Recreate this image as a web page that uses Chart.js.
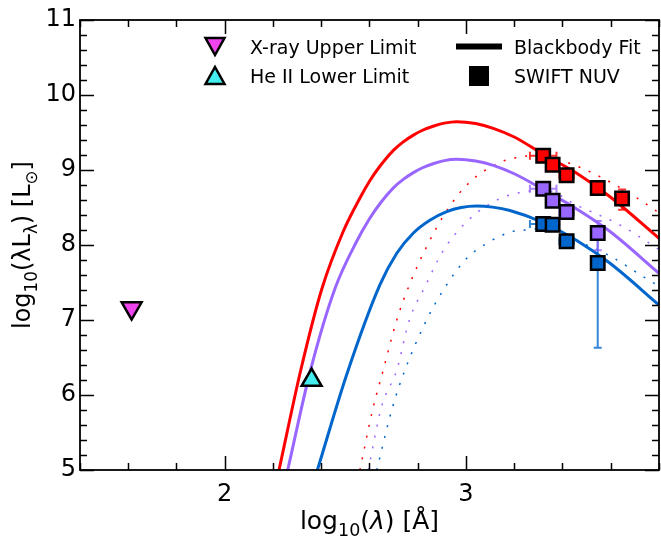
<!DOCTYPE html>
<html>
<head>
<meta charset="utf-8">
<script src="https://cdn.jsdelivr.net/npm/chart.js@4.4.1/dist/chart.umd.min.js"></script>
<style>
  html, body { margin: 0; padding: 0; background: #fff; overflow: hidden; }
  canvas { display: block; }
</style>
</head>
<body>
<canvas id="sedChart" width="661" height="537"></canvas>
<script>
// blackbody fits (solid)
const fitRedX = [2.225, 2.315, 2.402, 2.491, 2.561, 2.60, 2.643, 2.70, 2.74, 2.782, 2.82, 2.87, 2.91, 2.961, 3.04, 3.113, 3.2, 3.32, 3.459, 3.597, 3.8];
const fitRedY = [5.0, 6.33, 7.41, 8.18, 8.63, 8.85, 9.05, 9.265, 9.375, 9.465, 9.53, 9.59, 9.625, 9.645, 9.62, 9.556, 9.44, 9.21, 8.956, 8.644, 8.09];
const fitPurpleX = [2.261, 2.353, 2.457, 2.547, 2.60, 2.643, 2.70, 2.74, 2.782, 2.82, 2.87, 2.91, 2.961, 3.04, 3.113, 3.2, 3.32, 3.459, 3.597, 3.8];
const fitPurpleY = [5.0, 6.3, 7.42, 8.05, 8.35, 8.55, 8.765, 8.875, 8.965, 9.03, 9.09, 9.125, 9.142, 9.12, 9.062, 8.95, 8.74, 8.48, 8.18, 7.622];
const fitBlueX = [2.384, 2.505, 2.643, 2.713, 2.782, 2.85, 2.92, 2.98, 3.044, 3.11, 3.182, 3.32, 3.459, 3.597, 3.8];
const fitBlueY = [5.0, 6.267, 7.467, 7.89, 8.16, 8.33, 8.445, 8.5, 8.52, 8.505, 8.46, 8.3, 8.06, 7.756, 7.2];

// dotted curves
const dotRedX = [2.56, 2.616, 2.657, 2.713, 2.768, 2.837, 2.913, 3.01, 3.148, 3.196, 3.28, 3.41, 3.555, 3.7, 3.8];
const dotRedY = [5.0, 5.844, 6.333, 7.0, 7.489, 7.978, 8.422, 8.822, 9.111, 9.156, 9.19, 9.11, 8.911, 8.644, 8.43];
const dotPurpleX = [2.595, 2.65, 2.713, 2.765, 2.83, 2.903, 3.003, 3.134, 3.245, 3.33, 3.459, 3.638, 3.8];
const dotPurpleY = [5.0, 5.844, 6.333, 7.0, 7.444, 7.911, 8.311, 8.609, 8.711, 8.73, 8.53, 8.267, 7.94];
const dotBlueX = [2.63, 2.696, 2.747, 2.83, 2.906, 3.003, 3.086, 3.189, 3.245, 3.33, 3.5, 3.597, 3.735, 3.8];
const dotBlueY = [5.0, 5.844, 6.333, 6.956, 7.4, 7.822, 8.022, 8.178, 8.2, 8.22, 8.0, 7.853, 7.578, 7.45];

// SWIFT NUV points
const nuvX = [3.32, 3.359, 3.417, 3.546, 3.647];
const nuvXErr = [0.055, 0, 0.03, 0, 0];
const nuvRed = [9.19, 9.07, 8.93, 8.76, 8.62];
const nuvRedErrLo = [0, 0, 0.06, 0, 0.15];
const nuvRedErrHi = [0, 0, 0.06, 0, 0.12];
const nuvPurple = [8.75, 8.59, 8.44, 8.16];
const nuvPurpleErrLo = [0, 0, 0.06, 0.23];
const nuvPurpleErrHi = [0, 0, 0.06, 0.16];
const nuvBlue = [8.28, 8.27, 8.05, 7.76];
const nuvBlueErrLo = [0, 0, 0.08, 1.13];
const nuvBlueErrHi = [0, 0, 0.06, 0.31];

// limits
const xrayX = [1.614];
const xrayY = [7.16];
const heiiX = [2.36];
const heiiY = [6.2];

const RED = '#ff0000', PURPLE = '#9966ff', BLUE = '#0066cc';
const FONT = '"DejaVu Sans", sans-serif';

function pts(xs, ys) {
    return xs.map((x, i) => ({ x: x, y: ys[i] }));
}

function isMajor(v) {
    return Math.abs(v - Math.round(v)) < 1e-6;
}

function curve(xs, ys, color, dotted) {
    return {
        data: pts(xs, ys),
        showLine: true,
        borderColor: color,
        borderWidth: dotted ? 1.5 : 3,
        borderDash: dotted ? [2, 9] : [],
        pointRadius: 0,
        fill: false,
        cubicInterpolationMode: 'monotone',
        order: dotted ? 6 : 5
    };
}

function nuv(ys, color, lo, hi) {
    return {
        data: pts(nuvX.slice(0, ys.length), ys),
        pointStyle: 'rect',
        pointRadius: 9.5,
        pointBackgroundColor: color,
        pointBorderColor: '#000',
        pointBorderWidth: 2.5,
        errColor: color,
        errLo: lo,
        errHi: hi,
        order: 0
    };
}

const errorBars = {
    id: 'errorBars',
    beforeDatasetDraw(chart, args) {
        const ds = chart.data.datasets[args.index];
        if (!ds.errLo) return;
        const xs = chart.scales.x, ys = chart.scales.y;
        const ctx = chart.ctx;
        ctx.save();
        ctx.strokeStyle = ds.errColor;
        ctx.globalAlpha = 0.8;
        ctx.lineWidth = 2;
        ds.data.forEach((p, i) => {
            const px = xs.getPixelForValue(p.x);
            const py = ys.getPixelForValue(p.y);
            const cap = 4;
            if (ds.errLo[i] > 0 || ds.errHi[i] > 0) {
                const y1 = ys.getPixelForValue(p.y + ds.errHi[i]);
                const y2 = ys.getPixelForValue(p.y - ds.errLo[i]);
                ctx.beginPath();
                ctx.moveTo(px, y1); ctx.lineTo(px, y2);
                ctx.moveTo(px - cap, y1); ctx.lineTo(px + cap, y1);
                ctx.moveTo(px - cap, y2); ctx.lineTo(px + cap, y2);
                ctx.stroke();
            }
            if (nuvXErr[i] > 0) {
                const x1 = xs.getPixelForValue(p.x - nuvXErr[i]);
                const x2 = xs.getPixelForValue(p.x + nuvXErr[i]);
                ctx.beginPath();
                ctx.moveTo(x1, py); ctx.lineTo(x2, py);
                ctx.moveTo(x1, py - cap); ctx.lineTo(x1, py + cap);
                ctx.moveTo(x2, py - cap); ctx.lineTo(x2, py + cap);
                ctx.stroke();
            }
        });
        ctx.restore();
    }
};

function triangle(ctx, cx, cy, w, h, down, fill) {
    ctx.beginPath();
    if (down) {
        ctx.moveTo(cx - w / 2, cy - h / 2);
        ctx.lineTo(cx + w / 2, cy - h / 2);
        ctx.lineTo(cx, cy + h / 2);
    } else {
        ctx.moveTo(cx - w / 2, cy + h / 2);
        ctx.lineTo(cx + w / 2, cy + h / 2);
        ctx.lineTo(cx, cy - h / 2);
    }
    ctx.closePath();
    ctx.fillStyle = fill;
    ctx.fill();
    ctx.lineWidth = 2.5;
    ctx.strokeStyle = '#000';
    ctx.stroke();
}

// draw a title made of pieces, some of them subscript
function mathText(ctx, parts, cx, baseY, size, rotate) {
    ctx.save();
    ctx.translate(cx, baseY);
    if (rotate) ctx.rotate(-Math.PI / 2);
    let total = 0;
    parts.forEach(p => {
        ctx.font = (p.it ? 'italic ' : '') + (p.sub ? size * 0.7 : size) + 'px ' + FONT;
        p.w = ctx.measureText(p.t).width;
        total += p.w;
    });
    let x = -total / 2;
    ctx.fillStyle = '#000';
    ctx.textBaseline = 'alphabetic';
    parts.forEach(p => {
        ctx.font = (p.it ? 'italic ' : '') + (p.sub ? size * 0.7 : size) + 'px ' + FONT;
        ctx.fillText(p.t, x, p.sub ? size * 0.28 : 0);
        x += p.w;
    });
    ctx.restore();
}

const frameAndLegend = {
    id: 'frameAndLegend',
    afterDraw(chart) {
        const ctx = chart.ctx;
        const { left, right, top, bottom } = chart.chartArea;
        const xs = chart.scales.x, ys = chart.scales.y;

        ctx.save();
        ctx.strokeStyle = '#000';
        ctx.lineWidth = 1.5;
        ctx.beginPath();
        xs.ticks.forEach(t => {
            const px = Math.round(xs.getPixelForValue(t.value)) + 0.5;
            const len = isMajor(t.value) ? 14 : 7;
            ctx.moveTo(px, bottom); ctx.lineTo(px, bottom - len);
            ctx.moveTo(px, top); ctx.lineTo(px, top + len);
        });
        ys.ticks.forEach(t => {
            const py = Math.round(ys.getPixelForValue(t.value)) + 0.5;
            const len = isMajor(t.value) ? 14 : 7;
            ctx.moveTo(left, py); ctx.lineTo(left + len, py);
            ctx.moveTo(right, py); ctx.lineTo(right - len, py);
        });
        ctx.stroke();
        ctx.lineWidth = 1.8;
        ctx.strokeRect(left, top, right - left, bottom - top);

        // legend
        triangle(ctx, 215, 46.5, 19, 17, true, '#ee44ee');
        triangle(ctx, 215, 75.5, 19, 17, false, '#44eeee');
        ctx.fillStyle = '#000';
        ctx.fillRect(456, 43.5, 46, 6);
        ctx.fillRect(469, 66, 20, 20);
        ctx.font = '19px ' + FONT;
        ctx.textBaseline = 'alphabetic';
        ctx.fillText('X-ray Upper Limit', 250, 53.5);
        ctx.fillText('He II Lower Limit', 250, 82.5);
        ctx.fillText('Blackbody Fit', 514, 53.5);
        ctx.fillText('SWIFT NUV', 514, 82.5);
        ctx.restore();

        mathText(ctx, [
            { t: 'log' }, { t: '10', sub: true }, { t: '(' }, { t: 'λ', it: true }, { t: ') [Å]' }
        ], (left + right) / 2, 529, 25, false);
        mathText(ctx, [
            { t: 'log' }, { t: '10', sub: true }, { t: '(λL' }, { t: 'λ', sub: true },
            { t: ') [L' }, { t: '⊙', sub: true }, { t: ']' }
        ], 30, (top + bottom) / 2, 24, true);
    }
};

const ctx = document.getElementById('sedChart').getContext('2d');

new Chart(ctx, {
    type: 'scatter',
    data: {
        datasets: [
            nuv(nuvRed, RED, nuvRedErrLo, nuvRedErrHi),
            nuv(nuvPurple, PURPLE, nuvPurpleErrLo, nuvPurpleErrHi),
            nuv(nuvBlue, BLUE, nuvBlueErrLo, nuvBlueErrHi),
            {
                data: pts(xrayX, xrayY),
                pointStyle: 'triangle',
                rotation: 180,
                pointRadius: 11.5,
                pointBackgroundColor: '#ee44ee',
                pointBorderColor: '#000',
                pointBorderWidth: 2.5,
                order: 1
            },
            {
                data: pts(heiiX, heiiY),
                pointStyle: 'triangle',
                pointRadius: 11.5,
                pointBackgroundColor: '#44eeee',
                pointBorderColor: '#000',
                pointBorderWidth: 2.5,
                order: 1
            },
            curve(fitRedX, fitRedY, RED, false),
            curve(fitPurpleX, fitPurpleY, PURPLE, false),
            curve(fitBlueX, fitBlueY, BLUE, false),
            curve(dotRedX, dotRedY, RED, true),
            curve(dotPurpleX, dotPurpleY, PURPLE, true),
            curve(dotBlueX, dotBlueY, BLUE, true)
        ]
    },
    options: {
        responsive: false,
        animation: false,
        layout: { autoPadding: false, padding: { top: 20, right: 2, left: 0, bottom: 0 } },
        scales: {
            x: {
                type: 'linear',
                min: 1.4,
                max: 3.8,
                grid: { display: false, drawTicks: false },
                border: { display: false },
                afterFit: (s) => { s.height = 67; s.paddingLeft = 0; s.paddingRight = 0; },
                ticks: {
                    stepSize: 0.2,
                    autoSkip: false,
                    maxRotation: 0,
                    padding: 10,
                    color: '#000',
                    font: { family: FONT, size: 24 },
                    callback: (v) => isMajor(v) ? String(Math.round(v)) : ''
                }
            },
            y: {
                type: 'linear',
                min: 5,
                max: 11,
                grid: { display: false, drawTicks: false },
                border: { display: false },
                afterFit: (s) => { s.width = 80; s.paddingTop = 0; s.paddingBottom = 0; },
                ticks: {
                    stepSize: 0.2,
                    autoSkip: false,
                    padding: 4,
                    color: '#000',
                    font: { family: FONT, size: 24 },
                    callback: (v) => isMajor(v) ? String(Math.round(v)) : ''
                }
            }
        },
        plugins: {
            legend: { display: false },
            tooltip: { enabled: false }
        }
    },
    plugins: [errorBars, frameAndLegend]
});
</script>
</body>
</html>
